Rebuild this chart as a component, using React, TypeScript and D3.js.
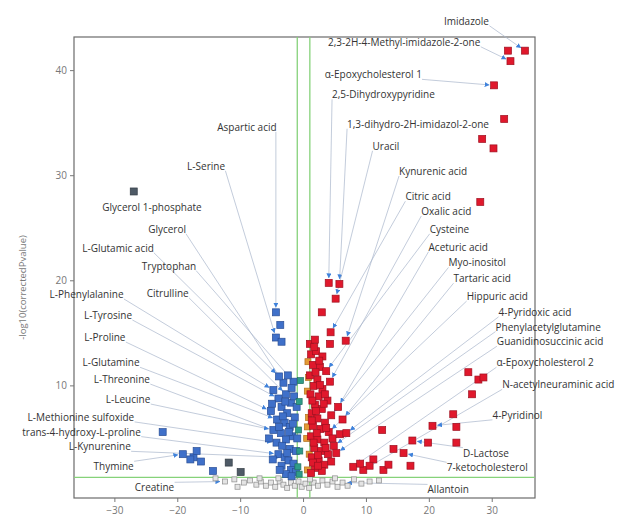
import React, { useRef, useEffect } from 'react';
import * as d3 from 'd3';

// axis setup
const xTicks = [-30, -20, -10, 0, 10, 20, 30];
const yTicks = [10, 20, 30, 40];
const fcCutoffs = [-1, 1];
const pCutoff = 1.3;

// down-regulated (blue)
const bluePoints: [number, number][] = [
  [-4.4, 17.0], [-3.7, 15.8], [-4.4, 14.6], [-3.5, 14.2],
  [-3.2, 10.3], [-1.6, 10.4], [-3.9, 10.9], [-2.5, 11.0], [-4.8, 9.6], [-2.8, 9.2],
  [-4.0, 8.8], [-2.0, 8.4], [-3.5, 8.0], [-5.2, 7.6], [-2.6, 7.4], [-1.4, 7.0],
  [-4.2, 6.8], [-3.0, 6.5], [-2.2, 6.1], [-4.8, 5.8], [-3.6, 5.5], [-1.8, 5.2],
  [-2.8, 4.9], [-4.3, 4.6], [-3.4, 4.3], [-2.2, 4.0], [-1.2, 3.8], [-4.0, 3.5],
  [-3.0, 3.2], [-2.4, 2.9], [-1.6, 2.6], [-3.5, 2.4], [-2.0, 2.0], [-1.2, 1.8],
  [-2.8, 1.6], [-5.5, 5.0], [-4.9, 3.0], [-1.5, 9.0], [-1.0, 5.0], [-1.1, 8.0],
  [-3.3, 7.1], [-2.3, 5.6], [-3.9, 6.1], [-1.7, 6.4], [-2.6, 3.6], [-3.8, 2.0],
  [-1.9, 1.4], [-5.0, 8.3], [-2.9, 8.5], [-1.9, 9.8],
  [-22.4, 5.6], [-19.2, 3.5], [-17.5, 3.2], [-17.0, 3.8], [-16.3, 2.8], [-14.4, 1.9], [-18.0, 3.0],
];
const darkPoints: [number, number][] = [[-27.0, 28.5], [-11.9, 2.7], [-10.0, 1.8]];
const tealPoints: [number, number][] = [[-0.7, 8.5], [-0.8, 5.8], [-0.6, 3.8], [-0.9, 2.3], [-0.5, 10.5], [-0.7, 1.6]];
const orangePoints: [number, number][] = [
  [0.6, 9.5], [0.8, 7.0], [0.5, 5.0], [0.9, 3.5], [0.7, 12.3], [0.6, 2.0], [0.8, 10.8], [0.6, 6.1],
];

// up-regulated (red)
const redPoints: [number, number][] = [
  [4.0, 19.8], [5.7, 19.7], [5.1, 18.3], [2.9, 17.0], [4.3, 15.1], [4.2, 14.0], [6.7, 14.3],
  [1.2, 13.0], [2.0, 13.3], [3.0, 12.8], [1.5, 12.0], [2.6, 11.8], [3.6, 11.4], [1.0, 11.0],
  [2.2, 10.6], [4.2, 10.4], [1.6, 10.0], [3.0, 9.7], [1.1, 9.2], [2.4, 9.0], [3.8, 8.6],
  [1.8, 8.2], [5.5, 8.0], [2.9, 7.8], [1.3, 7.4], [4.4, 7.2], [2.2, 6.9], [3.4, 6.5],
  [6.2, 6.8], [1.5, 6.2], [2.7, 5.9], [4.0, 5.6], [5.8, 5.4], [1.2, 5.2], [2.2, 4.9],
  [3.3, 4.6], [4.8, 4.3], [1.7, 4.1], [2.8, 3.8], [3.9, 3.5], [1.3, 3.2], [2.4, 2.9],
  [3.3, 2.5], [1.8, 2.2], [2.9, 1.9], [1.2, 1.7], [4.4, 2.8], [5.2, 3.6], [6.8, 5.5], [1.0, 14.0],
  [1.8, 14.4], [1.4, 8.6], [2.0, 7.6], [3.2, 8.3], [1.9, 11.3], [2.5, 12.4], [1.3, 6.7],
  [3.6, 6.0], [2.1, 5.5], [1.6, 4.6], [3.5, 4.1], [2.3, 3.4], [1.5, 2.7], [4.6, 5.0],
  [2.6, 10.1], [3.4, 9.2], [1.7, 13.7], [2.3, 2.4],
  [7.9, 2.3], [9.5, 2.0], [11.1, 3.0], [12.7, 2.0], [13.5, 2.5], [12.5, 5.8], [14.3, 4.0],
  [15.9, 3.6], [17.0, 2.4], [17.3, 4.8], [19.8, 4.6], [20.5, 6.2], [23.8, 7.3], [24.3, 6.1],
  [24.3, 4.6], [9.0, 2.6], [10.5, 2.4],
  [35.2, 41.9], [32.5, 41.9], [32.9, 40.9], [30.3, 38.6], [31.9, 35.4], [28.4, 33.5],
  [30.2, 32.6], [28.1, 27.5], [26.2, 11.3], [27.8, 10.6], [28.6, 10.8], [26.8, 9.2],
];

// not significant
const greyPoints: [number, number][] = [
  [-14.0, 1.2], [-12.5, 0.9], [-11.0, 1.1], [-9.5, 0.8], [-8.5, 1.0], [-7.5, 0.6], [-6.8, 0.9],
  [-6.0, 0.5], [-5.2, 0.8], [-4.5, 0.4], [-3.8, 0.9], [-3.2, 0.6], [-2.6, 0.3], [-2.0, 0.8],
  [-1.4, 0.5], [-0.8, 0.9], [-0.3, 0.4], [0.3, 0.7], [0.9, 0.3], [1.6, 0.8], [2.3, 0.5],
  [3.0, 1.0], [3.8, 0.6], [4.6, 0.9], [5.4, 0.4], [6.2, 0.8], [7.0, 0.5], [8.0, 1.1],
  [9.2, 0.7], [10.5, 0.9], [12.0, 1.0], [-7.0, 1.2], [-4.0, 1.2], [5.0, 1.2], [-10.5, 0.4], [1.0, 1.1],
];

// labelled metabolites: target (x, y) and label position, all in data units
const labelNames = [
  'Aspartic acid', 'L-Serine', 'Glycerol 1-phosphate', 'Glycerol', 'L-Glutamic acid', 'Tryptophan',
  'L-Phenylalanine', 'Citrulline', 'L-Tyrosine', 'L-Proline', 'L-Glutamine', 'L-Threonine',
  'L-Leucine', 'L-Methionine sulfoxide', 'trans-4-hydroxy-L-proline', 'L-Kynurenine', 'Thymine', 'Creatine',
  'Imidazole', '2,3-2H-4-Methyl-imidazole-2-one', 'α-Epoxycholesterol 1', '2,5-Dihydroxypyridine',
  '1,3-dihydro-2H-imidazol-2-one', 'Uracil', 'Kynurenic acid', 'Citric acid', 'Oxalic acid', 'Cysteine',
  'Aceturic acid', 'Myo-inositol', 'Tartaric acid', 'Hippuric acid', '4-Pyridoxic acid',
  'Phenylacetylglutamine', 'Guanidinosuccinic acid', 'α-Epoxycholesterol 2', 'N-acetylneuraminic acid',
  '4-Pyridinol', 'D-Lactose', '7-ketocholesterol', 'Allantoin',
];
const labelTargets: [number, number][] = [
  [-4.4, 17.0], [-4.4, 14.6], [-27.0, 28.5], [-3.2, 10.3], [-3.9, 10.9], [-1.6, 10.4],
  [-4.8, 9.6], [-2.8, 9.2], [-4.0, 8.8], [-5.2, 7.6], [-4.2, 6.8], [-3.6, 5.5],
  [-4.8, 5.8], [-4.3, 4.6], [-4.0, 3.5], [-3.0, 3.2], [-19.2, 3.5], [-12.5, 0.9],
  [35.2, 41.9], [32.9, 40.9], [30.3, 38.6], [4.0, 19.8],
  [5.7, 19.7], [5.1, 18.3], [6.7, 14.3], [4.3, 15.1], [4.2, 10.4], [3.6, 11.4],
  [5.5, 8.0], [4.4, 7.2], [6.2, 6.8], [4.0, 5.6], [6.8, 5.5],
  [4.8, 4.3], [5.2, 3.6], [7.9, 2.3], [9.5, 2.0],
  [20.5, 6.2], [17.3, 4.8], [15.9, 3.6], [6.2, 0.8],
];
const labelSpots: [number, number][] = [
  [-9.0, 34.6], [-15.5, 30.9], [-24.1, 27.0], [-21.7, 24.9], [-29.5, 23.1], [-21.4, 21.4],
  [-34.5, 18.7], [-21.6, 18.8], [-31.1, 16.7], [-31.6, 14.6], [-30.6, 12.2], [-28.9, 10.6],
  [-27.9, 8.7], [-35.4, 7.0], [-35.3, 5.6], [-32.4, 4.2], [-30.2, 2.3], [-23.7, 0.3],
  [25.9, 44.7], [16.0, 42.7], [11.1, 39.6], [12.7, 37.7],
  [18.2, 34.9], [13.1, 32.8], [20.6, 30.4], [19.8, 28.0], [22.7, 26.6], [23.2, 24.9],
  [24.6, 23.2], [27.6, 21.7], [28.4, 20.2], [30.8, 18.5], [36.8, 17.0],
  [38.9, 15.6], [39.2, 14.2], [38.4, 12.2], [40.5, 10.1],
  [34.0, 7.2], [29.0, 3.6], [29.2, 2.2], [23.0, 0.1],
];

const VolcanoChart: React.FC = () => {
  const chartRef = useRef<SVGSVGElement>(null);

  useEffect(() => {
    const svg = d3.select(chartRef.current);
    svg.selectAll('*').remove();

    const left = 74, right = 535, top = 37, bottom = 498;
    const x = d3.scaleLinear().domain([-36.5, 36.8]).range([left, right]);
    const y = d3.scaleLinear().domain([-0.67, 43.2]).range([bottom, top]);

    const defs = svg.append('defs');
    defs.append('marker')
      .attr('id', 'arrow')
      .attr('viewBox', '0 0 10 10')
      .attr('refX', 9).attr('refY', 5)
      .attr('markerWidth', 5).attr('markerHeight', 5)
      .attr('markerUnits', 'userSpaceOnUse')
      .attr('orient', 'auto')
      .append('path')
      .attr('d', 'M0,0 L10,5 L0,10 z')
      .attr('fill', '#3f82db');

    // frame
    svg.append('rect')
      .attr('x', left).attr('y', top)
      .attr('width', right - left).attr('height', bottom - top)
      .attr('fill', 'white')
      .attr('stroke', '#6b6b6b')
      .attr('stroke-width', 1.2);

    // x axis
    const xt = svg.append('g');
    xTicks.forEach(t => {
      xt.append('line').attr('x1', x(t)).attr('x2', x(t)).attr('y1', bottom).attr('y2', bottom + 4)
        .attr('stroke', '#777');
      xt.append('text').attr('x', x(t)).attr('y', bottom + 16)
        .attr('text-anchor', 'middle').attr('font-size', 10).attr('fill', '#777')
        .attr('font-family', 'Open Sans, sans-serif')
        .text(t < 0 ? '\u2212' + Math.abs(t) : String(t));
    });
    // y axis
    const yt = svg.append('g');
    yTicks.forEach(t => {
      yt.append('line').attr('x1', left - 4).attr('x2', left).attr('y1', y(t)).attr('y2', y(t))
        .attr('stroke', '#777');
      yt.append('text').attr('x', left - 7).attr('y', y(t)).attr('dy', '0.35em')
        .attr('text-anchor', 'end').attr('font-size', 10).attr('fill', '#777')
        .attr('font-family', 'Open Sans, sans-serif')
        .text(String(t));
    });
    svg.append('text')
      .attr('transform', `translate(26,${(top + bottom) / 2 + 20}) rotate(-90)`)
      .attr('text-anchor', 'middle').attr('font-size', 9.5).attr('fill', '#777')
      .attr('font-family', 'Open Sans, sans-serif')
      .text('-log10(correctedPvalue)');

    // thresholds
    fcCutoffs.forEach(c => {
      svg.append('line').attr('x1', x(c)).attr('x2', x(c)).attr('y1', top).attr('y2', bottom)
        .attr('stroke', '#86d27a').attr('stroke-width', 1.3);
    });
    svg.append('line').attr('x1', left).attr('x2', right).attr('y1', y(pCutoff)).attr('y2', y(pCutoff))
      .attr('stroke', '#86d27a').attr('stroke-width', 1.3);

    const segG = svg.append('g');
    const ptG = svg.append('g');
    const labG = svg.append('g');

    const drawSquares = (pts: [number, number][], size: number, fill: string, stroke: string) => {
      ptG.selectAll(null).data(pts).enter().append('rect')
        .attr('x', d => x(d[0]) - size / 2)
        .attr('y', d => y(d[1]) - size / 2)
        .attr('width', size).attr('height', size)
        .attr('fill', fill).attr('stroke', stroke).attr('stroke-width', 0.7);
    };
    ptG.selectAll(null).data(greyPoints).enter().append('rect')
      .attr('x', d => x(d[0]) - 2.5).attr('y', d => y(d[1]) - 2.5)
      .attr('width', 5).attr('height', 5)
      .attr('fill', '#e4e4e4').attr('stroke', '#8c8c8c').attr('stroke-width', 0.7);
    drawSquares(bluePoints, 7, '#3f70c9', '#2a4f96');
    drawSquares(darkPoints, 7, '#4e5a66', '#333c44');
    drawSquares(tealPoints, 6, '#2f9c88', '#217062');
    drawSquares(orangePoints, 6, '#e49a35', '#b06f1a');
    drawSquares(redPoints, 7, '#e0182c', '#9e1020');

    labelNames.forEach((name, i) => {
      const [tx, ty] = labelTargets[i];
      const [lx, ly] = labelSpots[i];
      const text = labG.append('text')
        .attr('x', x(lx)).attr('y', y(ly)).attr('dy', '0.35em')
        .attr('text-anchor', 'middle')
        .attr('font-family', 'Open Sans, sans-serif')
        .attr('font-size', 10)
        .attr('fill', '#333')
        .text(name);
      const bb = (text.node() as SVGTextElement).getBBox();
      const px = x(tx), py = y(ty);
      const sx = Math.max(bb.x, Math.min(px, bb.x + bb.width));
      const sy = Math.max(bb.y + 2, Math.min(py, bb.y + bb.height - 2));
      const dx = px - sx, dy = py - sy;
      const dist = Math.sqrt(dx * dx + dy * dy);
      if (dist < 16) return;
      const pad = 5;
      segG.append('line')
        .attr('x1', sx).attr('y1', sy)
        .attr('x2', px - dx / dist * pad).attr('y2', py - dy / dist * pad)
        .attr('stroke', '#a9b6cc')
        .attr('stroke-width', 0.7)
        .attr('marker-end', 'url(#arrow)');
    });
  }, []);

  return (
    <svg ref={chartRef} width={626} height={516}
      style={{ position: 'absolute', left: 0, top: 0, background: 'white' }} />
  );
};

export default function App() {
  return <VolcanoChart />;
}
